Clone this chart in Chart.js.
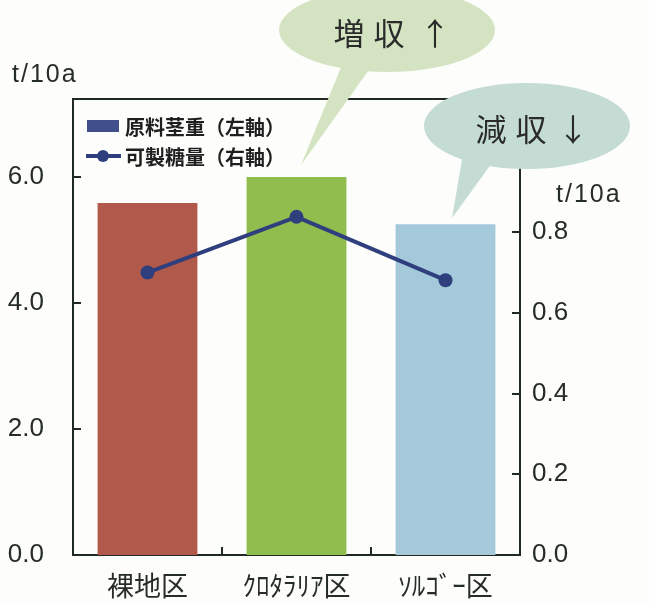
<!DOCTYPE html>
<html><head><meta charset="utf-8">
<script src="https://cdn.jsdelivr.net/npm/chart.js@4.4.1/dist/chart.umd.min.js"></script>
<style>html,body{margin:0;padding:0;background:#fdfdfb;}#wrap{width:649px;height:605px;position:relative;}</style>
</head><body><div id="wrap"><canvas id="c" width="649" height="605"></canvas></div>
<script>
const categories = ['裸地区', 'ｸﾛﾀﾗﾘｱ区', 'ｿﾙｺﾞｰ区'];
const stemWeight = [5.59, 6.0, 5.25];      // 原料茎重 (左軸) t/10a
const sugarYield = [0.70, 0.838, 0.681];   // 可製糖量 (右軸) t/10a
const leftTicks = [0, 2, 4, 6];
const rightTicks = [0, 0.2, 0.4, 0.6, 0.8];
const seriesNames = ['原料茎重（左軸）', '可製糖量（右軸）'];
const unitLabel = 't/10a';
const bubbleTexts = [['増', '収', '↑'], ['減', '収', '↓']];

const barColors = ['#b1594b', '#8fbe4e', '#a4c9da'];
const lineColor = '#2f3f7e';
const axisColor = '#1e2a22';
const textColor = '#262d27';
const numFont = '"Liberation Sans", Arial, sans-serif';
const jpFont = '"Noto Sans CJK JP", sans-serif';

const isTick = (v, arr) => arr.some(t => Math.abs(t - v) < 1e-6);

const decor = {
  id: 'decor',
  afterDraw(chart) {
    const ctx = chart.ctx;
    const ca = chart.chartArea;
    const y = chart.scales.y, y1 = chart.scales.y1, x = chart.scales.x;
    ctx.save();
    // top border
    ctx.strokeStyle = axisColor; ctx.lineWidth = 2;
    ctx.beginPath(); ctx.moveTo(ca.left - 1, ca.top); ctx.lineTo(ca.right + 1, ca.top); ctx.stroke();
    // inward ticks
    ctx.lineWidth = 2;
    leftTicks.forEach(v => { if (v === 0) return; const py = Math.round(y.getPixelForValue(v));
      ctx.beginPath(); ctx.moveTo(ca.left, py); ctx.lineTo(ca.left + 8, py); ctx.stroke(); });
    rightTicks.forEach(v => { if (v === 0) return; const py = Math.round(y1.getPixelForValue(v));
      ctx.beginPath(); ctx.moveTo(ca.right, py); ctx.lineTo(ca.right - 8, py); ctx.stroke(); });
    for (let i = 1; i < categories.length; i++) {
      const px = Math.round((x.getPixelForValue(i - 1) + x.getPixelForValue(i)) / 2);
      ctx.beginPath(); ctx.moveTo(px, ca.bottom); ctx.lineTo(px, ca.bottom - 8); ctx.stroke();
    }
    // unit labels
    ctx.fillStyle = textColor; ctx.font = '25px ' + numFont; ctx.textBaseline = 'middle';
    ctx.letterSpacing = '2px';
    ctx.textAlign = 'left';
    ctx.fillText(unitLabel, 12, 75);
    ctx.fillText(unitLabel, 556, 195);
    ctx.letterSpacing = '0px';
    // legend
    ctx.fillStyle = '#414f8c';
    ctx.fillRect(87, 120, 32, 12);
    ctx.strokeStyle = lineColor; ctx.lineWidth = 4;
    ctx.beginPath(); ctx.moveTo(86, 156); ctx.lineTo(121, 156); ctx.stroke();
    ctx.fillStyle = lineColor; ctx.beginPath(); ctx.arc(103, 156, 6, 0, Math.PI * 2); ctx.fill();
    ctx.fillStyle = '#1f1f1f'; ctx.font = 'bold 20px ' + jpFont; ctx.textBaseline = 'middle';
    ctx.fillText(seriesNames[0], 125, 127);
    ctx.fillText(seriesNames[1], 125, 157);
    // bubbles
    function bubble(cx, cy, rx, ry, tail, color) {
      ctx.fillStyle = color;
      ctx.beginPath(); ctx.ellipse(cx, cy, rx, ry, 0, 0, Math.PI * 2); ctx.fill();
      ctx.beginPath(); ctx.moveTo(tail[0][0], tail[0][1]);
      ctx.lineTo(tail[1][0], tail[1][1]); ctx.lineTo(tail[2][0], tail[2][1]); ctx.closePath(); ctx.fill();
    }
    bubble(387, 30, 108, 42, [[344, 60], [376, 60], [301, 165]], '#d4e4c2');
    bubble(527, 126, 103, 43, [[464, 148], [497, 156], [452, 218]], '#c4dcd3');
    ctx.fillStyle = '#2a2a2a'; ctx.font = '31px ' + jpFont; ctx.textAlign = 'center'; ctx.textBaseline = 'middle';
    const b1x = [349, 389, 435], b2x = [491, 531, 573];
    bubbleTexts[0].forEach((t, i) => ctx.fillText(t, b1x[i], 33));
    bubbleTexts[1].forEach((t, i) => ctx.fillText(t, b2x[i], 129));
    ctx.restore();
  }
};

new Chart(document.getElementById('c'), {
  type: 'bar',
  data: {
    labels: categories,
    datasets: [
      { type: 'line', label: seriesNames[1], data: sugarYield, yAxisID: 'y1', order: 0,
        borderColor: lineColor, borderWidth: 4, pointRadius: 7, pointBackgroundColor: lineColor,
        pointBorderColor: lineColor, pointBorderWidth: 0, tension: 0, fill: false },
      { type: 'bar', label: seriesNames[0], data: stemWeight, yAxisID: 'y', order: 1,
        backgroundColor: barColors, borderWidth: 0, barPercentage: 0.67, categoryPercentage: 1.0 }
    ]
  },
  options: {
    responsive: false, animation: false, devicePixelRatio: 1,
    layout: { padding: { top: 99, left: 0, right: 0, bottom: 0 } },
    plugins: { legend: { display: false }, tooltip: { enabled: false } },
    scales: {
      x: {
        grid: { display: false, drawTicks: false },
        border: { display: true, color: axisColor, width: 2 },
        ticks: { color: textColor, font: { family: jpFont, size: 27 }, padding: 15 },
        afterFit(s) { s.height = 50; }
      },
      y: {
        position: 'left', min: 0, max: 7.24,
        grid: { display: false, drawTicks: false },
        border: { display: true, color: axisColor, width: 2 },
        ticks: { stepSize: 2, color: textColor, font: { family: numFont, size: 26 }, padding: 29,
          callback: v => isTick(v, leftTicks) ? v.toFixed(1) : '' },
        afterFit(s) { s.width = 73; }
      },
      y1: {
        position: 'right', min: 0, max: 1.13,
        grid: { display: false, drawTicks: false },
        border: { display: true, color: axisColor, width: 2 },
        ticks: { stepSize: 0.2, color: textColor, font: { family: numFont, size: 26 }, padding: 12,
          callback: v => isTick(v, rightTicks) ? v.toFixed(1) : '' },
        afterFit(s) { s.width = 129; }
      }
    }
  },
  plugins: [decor]
});
</script></body></html>
